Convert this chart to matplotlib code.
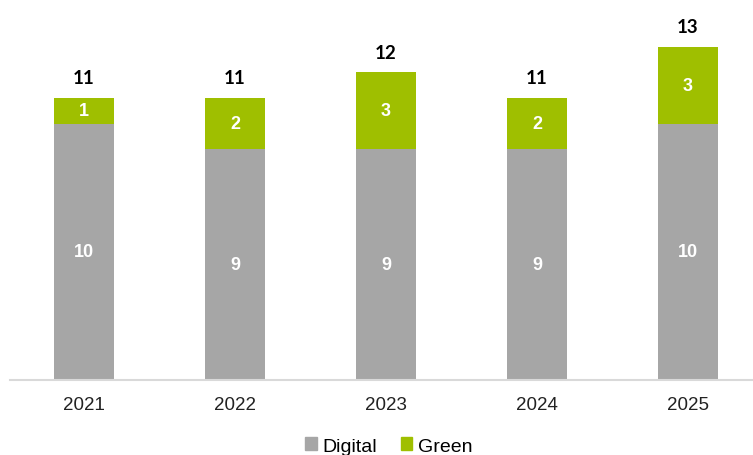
import matplotlib
matplotlib.use("Agg")
import matplotlib.pyplot as plt
from matplotlib.patches import Patch

years = ["2021", "2022", "2023", "2024", "2025"]
digital = [10, 9, 9, 9, 10]
green = [1, 2, 3, 2, 3]
totals = [11, 11, 12, 11, 13]

GRAY = "#A6A6A6"
GREEN = "#9FBF00"

fig = plt.figure(figsize=(7.53, 4.56), dpi=100)
ax = fig.add_axes([10/753, (456-380.5)/456, 743/753, (14*25.6)/456])

x = list(range(len(years)))
w = 0.4
ax.bar(x, digital, width=w, color=GRAY, label="Digital", zorder=2)
ax.bar(x, green, width=w, bottom=digital, color=GREEN, label="Green", zorder=2)

for xi, d, g, t in zip(x, digital, green, totals):
    ax.text(xi, d/2, str(d), ha="center", va="center", color="white",
            fontsize=13, fontweight="bold", family="Liberation Sans")
    ax.text(xi, d + g/2, str(g), ha="center", va="center", color="white",
            fontsize=13, fontweight="bold", family="Liberation Sans")
    ax.annotate(str(t), (xi, d + g), xytext=(0, 14.5), textcoords="offset points",
                ha="center", va="center", fontsize=13.5, fontweight="bold",
                family="Lato", color="black")

ax.set_xlim(-74/151, 4 + 65/151)
ax.set_ylim(0, 14)
ax.set_xticks(x)
ax.set_xticklabels(years, family="Liberation Sans", fontsize=13.5, color="#222222")
ax.tick_params(axis="x", length=0, pad=12)
ax.set_yticks([])
for s in ["top", "right", "left"]:
    ax.spines[s].set_visible(False)
ax.spines["bottom"].set_color("#D9D9D9")
ax.spines["bottom"].set_linewidth(1.5)

handles = [Patch(color=GRAY, label="Digital"), Patch(color=GREEN, label="Green")]
fig.legend(handles=handles, loc="center", bbox_to_anchor=(389/753, 1 - 447/456),
           ncol=2, frameon=False, prop={"family": "Liberation Sans", "size": 14},
           handlelength=0.6, handleheight=0.6, handletextpad=0.3, columnspacing=1.2)

fig.savefig("out.png", dpi=100)
